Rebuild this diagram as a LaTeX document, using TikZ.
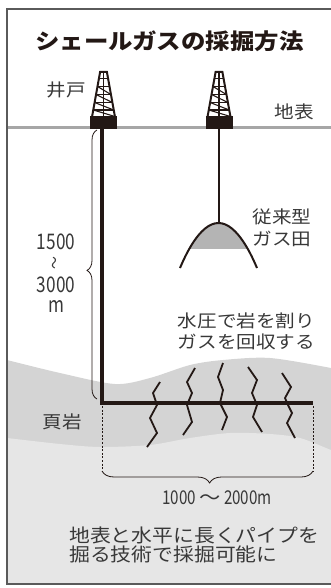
\documentclass[tikz,border=0pt]{standalone}
\usepackage{fontspec}
\usepackage{tikz}
\usetikzlibrary{decorations.pathreplacing}
\newfontfamily\jpfont[FakeStretch=1.12]{Noto Sans CJK JP}
\newfontfamily\numfont[FakeStretch=0.8]{Noto Sans CJK JP}
\definecolor{RigInk}{HTML}{231815}
\definecolor{LabelInk}{HTML}{383838}
\definecolor{GroundGray}{HTML}{A6A6A6}
\definecolor{ShaleGray}{HTML}{D4D4D4}
\definecolor{DeepGray}{HTML}{E6E6E6}
\definecolor{DomeGray}{HTML}{B4B4B4}
\definecolor{FrameGray}{HTML}{5A5A5A}
\tikzset{
  pipe/.style={draw=RigInk,line width=3.6pt},
  feeder/.style={draw=RigInk,line width=2pt},
  rigleg/.style={draw=RigInk,line width=2pt},
  rigbar/.style={draw=RigInk,line width=1.1pt},
  crack/.style={draw=RigInk,line width=1.8pt},
  dome/.style={draw=RigInk,line width=2pt},
  ground/.style={draw=GroundGray,line width=3pt},
  dimline/.style={draw=RigInk,line width=0.7pt,dash pattern=on 2pt off 1.6pt},
  dimbrace/.style={draw=RigInk,line width=0.8pt,decorate},
  label/.style={inner sep=0pt,text=LabelInk,align=center,
    font=\jpfont\fontsize{17.5}{21.5}\selectfont},
  numlabel/.style={inner sep=0pt,text=LabelInk,
    font=\numfont\fontsize{21.5}{21.5}\selectfont},
  derrick/.pic={
    \fill[RigInk] (-13.5,-11.5) rectangle (13.5,1);
    \draw[rigleg] (-11.5,-11) -- (-3.4,-56) -- (3.4,-56) -- (11.5,-11);
    \draw[rigbar] (0,-56) -- (0,-11);
    \foreach \yy in {-49.5,-41.5,-33.5,-25.5,-18} {
      \pgfmathsetmacro\hw{3.4+8.1*(\yy+56)/45}
      \draw[rigbar] (-\hw,\yy) -- (\hw,\yy);
    }
    \foreach \ya/\yb in {-41.5/-33.5,-33.5/-25.5,-25.5/-18,-18/-11.5} {
      \pgfmathsetmacro\hwa{3.4+8.1*(\ya+56)/45}
      \pgfmathsetmacro\hwb{3.4+8.1*(\yb+56)/45}
      \draw[rigbar] (-\hwa,\ya) -- (\hwb,\yb);
    }
  }
}
\begin{document}
\begin{tikzpicture}[x=1pt,y=-1pt]
  \useasboundingbox (0,0) rectangle (331,588);
  \begin{scope}
    \clip (7,9) rectangle (331,584);
    \fill[ShaleGray] plot[smooth] coordinates {(0,358) (7,360) (60,373) (115,384)
      (150,378) (190,365) (223,360) (270,358) (331,368) (345,372)}
      -- (345,600) -- (0,600) -- cycle;
    \fill[DeepGray] plot[smooth] coordinates {(0,437) (7,438) (60,444) (100,447)
      (150,445) (190,438) (230,433) (270,434) (300,438) (331,450) (345,455)}
      -- (345,600) -- (0,600) -- cycle;
  \end{scope}
  \draw[ground] (7,128) -- (331,128);

  % conventional gas field
  \begin{scope}
    \clip (170,200) rectangle (270,248.5);
    \fill[DomeGray] (180,268) parabola bend (218.5,223) (257,268) -- cycle;
  \end{scope}
  \draw[dome] (180,268) parabola bend (218.5,223) (257,268);

  \draw[crack] (160,382) -- (153,393) -- (157,405) -- (150,418) -- (157,433) -- (147,447);
  \draw[crack] (195,368) -- (187,382) -- (192,393) -- (187,405) -- (192,422) -- (183,435);
  \draw[crack] (223,363) -- (218,377) -- (223,390) -- (220,403) -- (227,417) -- (222,430);
  \draw[crack] (248,367) -- (257,380) -- (252,393) -- (257,405) -- (253,417) -- (262,432);
  \draw[crack] (282,373) -- (291,387) -- (285,398) -- (288,405) -- (292,413) -- (287,423) -- (295,438);

  \coordinate (wellL) at (102,129);
  \coordinate (bend) at (102,403);
  \coordinate (toe) at (313,403);
  \coordinate (wellR) at (218.5,129);
  \coordinate (cap) at (218.5,223);
  \draw[pipe] (wellL) -- (bend) -- (toe);
  \draw[feeder] (wellR) -- (cap);

  \pic at (103.5,128) {derrick};
  \pic at (219,128) {derrick};

  % depth and length marks
  \coordinate (depthTop) at (97,130);
  \coordinate (depthBot) at (97,399);
  \draw[dimbrace,decoration={brace,amplitude=10pt,aspect=0.478}] (depthBot) -- (depthTop);
  \coordinate (dimL) at (102,471);
  \coordinate (dimR) at (313,471);
  \draw[dimline] (bend) ++(0,3) -- (dimL);
  \draw[dimline] (toe) ++(0,3) -- (dimR);
  \draw[dimbrace,decoration={brace,amplitude=12pt,aspect=0.49}] (dimR) -- (dimL);

  \node[inner sep=0pt,text=RigInk,font=\jpfont\bfseries\fontsize{21.8}{24}\selectfont]
    (title) at (169.5,41) {シェールガスの採掘方法};
  \node[label] (well) at (66,89.5) {井戸};
  \node[label] (surface) at (294,111.5) {地表};
  \node[label,align=left] (field) at (282,228) {従来型\\ガス田};
  \node[label] (frack) at (246.5,331.5) {水圧で岩を割り\\ガスを回収する};
  \node[label] (shale) at (62.5,421.5) {頁岩};
  \node[numlabel] (depthA) at (56,241.7) {1500};
  \node[numlabel,rotate=90,font=\numfont\fontsize{16}{16}\selectfont] (depthW) at (56,263) {〜};
  \node[numlabel] (depthB) at (56,285) {3000};
  \node[numlabel] (depthU) at (56,306.5) {m};
  \node[numlabel,font=\numfont\fontsize{19}{19}\selectfont] (length) at (217,498)
    {1000 {\jpfont〜} 2000m};
  \node[label,anchor=west,align=left,font=\jpfont\fontsize{18.6}{16.5}\selectfont]
    (summary) at (69,545) {地表と水平に長くパイプを\\掘る技術で採掘可能に};

  \begin{scope}
    \clip (0,0) rectangle (331,588);
    \draw[FrameGray,line width=1.2pt] (7,9) rectangle (345,584);
  \end{scope}
\end{tikzpicture}
\end{document}
